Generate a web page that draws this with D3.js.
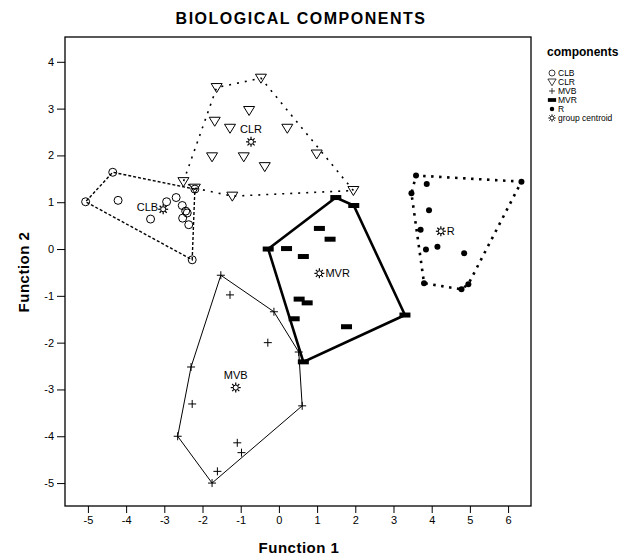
<!DOCTYPE html>
<html>
<head>
<meta charset="utf-8">
<script src="https://cdn.jsdelivr.net/npm/d3@7"></script>
<style>
  body { margin: 0; background: #fff; }
  text { font-family: "Liberation Sans", Arial, sans-serif; fill: #000; }
</style>
</head>
<body>
<div id="chart"></div>
<script>
// discriminant scores (Function 1, Function 2)
const clbPoints = [[-5.06, 1.01], [-4.35, 1.64], [-2.20, 1.28], [-2.27, -0.23], [-4.21, 1.04],
    [-3.36, 0.64], [-2.94, 1.01], [-2.69, 1.10], [-2.53, 0.93], [-2.44, 0.81], [-2.40, 0.77],
    [-2.52, 0.66], [-2.36, 0.52]];
const clrPoints = [[-1.63, 3.45], [-0.47, 3.65], [-0.78, 2.96], [-1.68, 2.73], [-1.28, 2.58],
    [0.22, 2.58], [-1.75, 1.97], [-0.92, 1.97], [-0.37, 1.76], [0.99, 2.03], [1.95, 1.25],
    [-1.22, 1.13], [-2.20, 1.30], [-2.50, 1.44]];
const mvbPoints = [[-1.52, -0.56], [-1.28, -0.98], [-0.13, -1.34], [-0.29, -2.00], [0.52, -2.20],
    [0.61, -3.35], [-1.75, -5.00], [-1.61, -4.75], [-1.09, -4.14], [-0.98, -4.35], [-2.65, -4.00],
    [-2.27, -3.31], [-2.30, -2.52]];
const mvrPoints = [[1.49, 1.10], [1.96, 0.93], [3.30, -1.41], [0.64, -2.41], [-0.28, 0.00],
    [1.06, 0.44], [1.34, 0.21], [0.20, 0.01], [0.64, -0.16], [0.53, -1.07], [0.74, -1.15],
    [0.40, -1.49], [1.77, -1.66]];
const rPoints = [[3.59, 1.57], [3.87, 1.39], [3.47, 1.19], [6.35, 1.44], [3.93, 0.83],
    [3.71, 0.41], [3.85, -0.01], [4.15, 0.05], [4.85, -0.09], [3.80, -0.73], [4.78, -0.86],
    [4.96, -0.75]];

const groups = ["CLB", "CLR", "MVB", "MVR", "R"];
const groupPoints = [clbPoints, clrPoints, mvbPoints, mvrPoints, rPoints];
const centroids = [[-3.03, 0.85], [-0.73, 2.29], [-1.13, -2.96], [1.06, -0.52], [4.24, 0.38]];

const xTicks = [-5, -4, -3, -2, -1, 0, 1, 2, 3, 4, 5, 6];
const yTicks = [4, 3, 2, 1, 0, -1, -2, -3, -4, -5];
const legendLabels = ["CLB", "CLR", "MVB", "MVR", "R", "group centroid"];

const width = 638, height = 557;
const plot = { left: 65, right: 531, top: 37, bottom: 506 };

const svg = d3.select("#chart").append("svg")
    .attr("width", width)
    .attr("height", height);

const x = d3.scaleLinear().domain([-5.6, 6.6]).range([plot.left, plot.right]);
const y = d3.scaleLinear().domain([-5.49, 4.53]).range([plot.bottom, plot.top]);

// frame
svg.append("rect")
    .attr("x", plot.left).attr("y", plot.top)
    .attr("width", plot.right - plot.left).attr("height", plot.bottom - plot.top)
    .attr("fill", "none").attr("stroke", "#000").attr("stroke-width", 1.3);

// axes
const fmt = d => d < 0 ? "-" + Math.abs(d) : String(d);
const xAxis = svg.append("g")
    .attr("transform", `translate(0,${plot.bottom})`)
    .call(d3.axisBottom(x).tickValues(xTicks).tickSize(7).tickPadding(3).tickFormat(fmt));
const yAxis = svg.append("g")
    .attr("transform", `translate(${plot.left},0)`)
    .call(d3.axisLeft(y).tickValues(yTicks).tickSize(8).tickPadding(3).tickFormat(fmt));
[xAxis, yAxis].forEach(a => {
    a.select(".domain").remove();
    a.selectAll("text").style("font-family", "'Liberation Sans', Arial, sans-serif")
        .style("font-size", "11px").attr("fill", "#222");
    a.selectAll("line").attr("stroke", "#000");
});

// hull outlines
const hullStyles = [
    { dash: "3,2", w: 1.4 },
    { dash: "2,6", w: 1.6 },
    { dash: null, w: 1 },
    { dash: null, w: 2.6 },
    { dash: "2.5,5.5", w: 2.6 }
];
groupPoints.forEach((pts, i) => {
    const hull = d3.polygonHull(pts.map(p => [x(p[0]), y(p[1])]));
    svg.append("path")
        .attr("d", "M" + hull.join("L") + "Z")
        .attr("fill", "none")
        .attr("stroke", "#000")
        .attr("stroke-width", hullStyles[i].w)
        .attr("stroke-dasharray", hullStyles[i].dash);
});

// marker drawing
function drawMarker(g, type) {
    if (type === "CLB") {
        g.append("circle").attr("r", 4).attr("fill", "#fff").attr("fill-opacity", 0)
            .attr("stroke", "#000").attr("stroke-width", 1);
    } else if (type === "CLR") {
        g.append("path").attr("d", "M-5.5,-4L5.5,-4L0,5Z")
            .attr("fill", "none").attr("stroke", "#000").attr("stroke-width", 1);
    } else if (type === "MVB") {
        g.append("path").attr("d", "M-4,0H4M0,-4V4")
            .attr("stroke", "#000").attr("stroke-width", 1);
    } else if (type === "MVR") {
        g.append("rect").attr("x", -5.5).attr("y", -2.5).attr("width", 11).attr("height", 5)
            .attr("fill", "#000");
    } else if (type === "R") {
        g.append("circle").attr("r", 3).attr("fill", "#000");
    } else {
        // group centroid: small sun
        const rays = d3.range(8).map(k => k * Math.PI / 4);
        g.selectAll("line").data(rays).enter().append("line")
            .attr("x1", a => Math.cos(a) * 2.5).attr("y1", a => Math.sin(a) * 2.5)
            .attr("x2", a => Math.cos(a) * 5).attr("y2", a => Math.sin(a) * 5)
            .attr("stroke", "#000").attr("stroke-width", 1.2);
        g.append("circle").attr("r", 2.5).attr("fill", "#fff")
            .attr("stroke", "#000").attr("stroke-width", 1);
    }
}

groupPoints.forEach((pts, i) => {
    pts.forEach(p => {
        const g = svg.append("g").attr("transform", `translate(${x(p[0])},${y(p[1])})`);
        drawMarker(g, groups[i]);
    });
});

// centroids and their labels
const labelPos = [
    { dx: -5, dy: 2, anchor: "end" },
    { dx: 0, dy: -9, anchor: "middle" },
    { dx: 0, dy: -9, anchor: "middle" },
    { dx: 6, dy: 4, anchor: "start" },
    { dx: 6, dy: 4, anchor: "start" }
];
centroids.forEach((c, i) => {
    const g = svg.append("g").attr("transform", `translate(${x(c[0])},${y(c[1])})`);
    drawMarker(g, "centroid");
    g.append("text")
        .attr("x", labelPos[i].dx).attr("y", labelPos[i].dy)
        .attr("text-anchor", labelPos[i].anchor)
        .style("font-size", "11px")
        .text(groups[i]);
});

// titles
svg.append("text")
    .attr("x", 301).attr("y", 24)
    .attr("text-anchor", "middle")
    .style("font-size", "16px").style("font-weight", "bold").style("letter-spacing", "1.5px")
    .text("BIOLOGICAL COMPONENTS");
svg.append("text")
    .attr("x", 299).attr("y", 553)
    .attr("text-anchor", "middle")
    .style("font-size", "15px").style("font-weight", "bold").style("letter-spacing", "0.5px")
    .text("Function 1");
svg.append("text")
    .attr("transform", "translate(29,272) rotate(-90)")
    .attr("text-anchor", "middle")
    .style("font-size", "15px").style("font-weight", "bold").style("letter-spacing", "0.5px")
    .text("Function 2");

// legend
const legend = svg.append("g").attr("transform", "translate(547,0)");
legend.append("text")
    .attr("x", 0).attr("y", 56)
    .style("font-size", "12px").style("font-weight", "bold")
    .text("components");
legendLabels.forEach((lab, i) => {
    const cy = 73 + i * 9;
    const g = legend.append("g").attr("transform", `translate(5,${cy})`);
    const type = i < groups.length ? groups[i] : "centroid";
    const s = g.append("g").attr("transform", "scale(0.75)");
    drawMarker(s, type);
    legend.append("text")
        .attr("x", 11).attr("y", cy + 3)
        .style("font-size", "8.5px")
        .text(lab);
});
</script>
</body>
</html>
